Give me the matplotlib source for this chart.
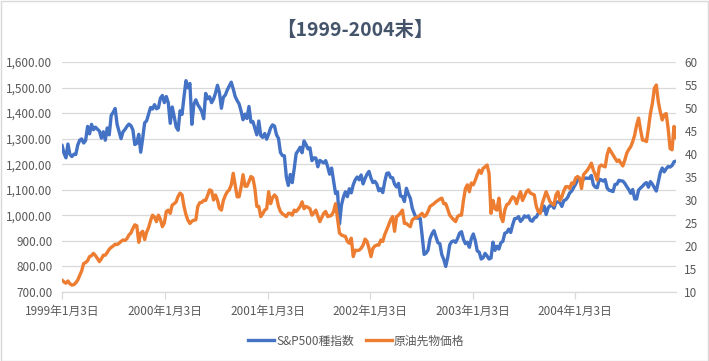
import matplotlib
matplotlib.use('Agg')
import matplotlib.pyplot as plt
import pandas as pd
from matplotlib.ticker import FuncFormatter, FixedLocator
from matplotlib.lines import Line2D
from matplotlib.patches import Rectangle

plt.rcParams['font.family'] = ['Noto Sans CJK JP', 'DejaVu Sans']

title = '【1999-2004末】'
series_names = ['S&P500種指数', '原油先物価格']
start_date = '1999-01-03'
xtick_dates = ['1999-01-03', '2000-01-03', '2001-01-03', '2002-01-03', '2003-01-03', '2004-01-03']
left_ticks = [700, 800, 900, 1000, 1100, 1200, 1300, 1400, 1500, 1600]
right_ticks = [10, 15, 20, 25, 30, 35, 40, 45, 50, 55, 60]

sp500_1999 = [1275, 1243, 1225, 1279, 1239, 1230, 1239, 1238, 1275, 1294, 1299, 1283, 1293, 1348, 1319,
              1356, 1335, 1345, 1337, 1330, 1302, 1327, 1294, 1342, 1315, 1391, 1403, 1418, 1356, 1328,
              1300, 1327, 1336, 1348, 1357, 1351, 1335, 1277, 1282, 1317, 1247, 1301, 1362, 1370, 1396,
              1422, 1416, 1433, 1417, 1421, 1458, 1469]
sp500_2000 = [1441, 1465, 1441, 1360, 1424, 1387, 1346, 1333, 1409, 1395, 1464, 1527, 1499, 1516, 1356,
              1434, 1452, 1433, 1421, 1406, 1378, 1477, 1456, 1464, 1441, 1455, 1478, 1509, 1480, 1419,
              1462, 1471, 1491, 1506, 1521, 1495, 1465, 1449, 1436, 1408, 1374, 1396, 1379, 1426, 1365,
              1367, 1341, 1315, 1369, 1312, 1305, 1320]
sp500_2001 = [1298, 1318, 1342, 1354, 1349, 1315, 1301, 1246, 1234, 1233, 1150, 1117, 1160, 1128, 1183,
              1242, 1253, 1266, 1245, 1291, 1277, 1260, 1264, 1214, 1225, 1224, 1190, 1215, 1210, 1205,
              1214, 1190, 1161, 1185, 1134, 1085, 1092, 966, 1040, 1072, 1092, 1073, 1104, 1088, 1120,
              1139, 1150, 1139, 1158, 1123, 1144, 1161]
sp500_2002 = [1172, 1146, 1128, 1133, 1122, 1096, 1104, 1089, 1132, 1164, 1166, 1148, 1147, 1122, 1111,
              1125, 1076, 1073, 1054, 1106, 1083, 1067, 1027, 1007, 989, 990, 989, 921, 847, 852,
              864, 908, 928, 940, 916, 893, 889, 846, 827, 800, 835, 884, 897, 900, 894,
              909, 930, 936, 906, 889, 895, 875]
sp500_2003 = [909, 927, 901, 861, 856, 829, 834, 851, 841, 829, 833, 895, 863, 879, 868,
              893, 898, 930, 933, 946, 933, 963, 987, 988, 995, 976, 985, 998, 993, 998,
              980, 977, 990, 993, 1008, 1021, 1018, 1036, 1003, 1029, 1038, 1039, 1028, 1050, 1053,
              1050, 1035, 1058, 1061, 1071, 1088, 1095]
sp500_2004 = [1109, 1122, 1139, 1141, 1131, 1142, 1146, 1145, 1145, 1156, 1120, 1110, 1108, 1141, 1139,
              1134, 1140, 1107, 1098, 1096, 1093, 1121, 1122, 1137, 1135, 1134, 1125, 1112, 1101, 1086,
              1101, 1064, 1064, 1099, 1107, 1114, 1123, 1128, 1110, 1132, 1122, 1108, 1095, 1130, 1167,
              1185, 1170, 1182, 1191, 1189, 1195, 1210, 1212]

oil_1999 = [12.6, 12.2, 11.9, 12.4, 11.8, 11.5, 11.6, 12.0, 12.6, 13.6, 14.6, 16.2, 16.4, 16.8, 17.7,
            17.9, 18.4, 17.9, 17.3, 16.6, 17.2, 18.0, 18.0, 18.6, 19.3, 19.7, 20.0, 20.4, 20.3, 20.6,
            21.0, 21.3, 21.2, 21.6, 22.4, 22.8, 23.8, 24.6, 24.4, 20.8, 22.8, 23.2, 21.4, 23.0, 24.0,
            25.5, 26.7, 26.3, 25.3, 26.7, 25.8, 24.2]
oil_2000 = [25.0, 27.5, 27.8, 27.1, 28.9, 29.2, 29.6, 30.8, 31.5, 31.1, 28.6, 26.8, 25.6, 24.9, 25.4,
            25.6, 25.7, 28.6, 29.4, 29.5, 29.9, 29.9, 31.0, 32.2, 32.0, 30.0, 31.1, 30.0, 28.2, 27.8,
            29.9, 31.0, 31.8, 32.2, 33.3, 35.8, 33.3, 30.7, 30.7, 32.8, 35.5, 33.0, 33.0, 34.0, 35.1,
            34.8, 32.5, 28.6, 28.6, 26.4, 27.0, 27.8]
oil_2001 = [28.1, 31.8, 29.2, 30.5, 31.1, 30.6, 28.6, 27.5, 27.0, 26.7, 26.4, 27.1, 27.1, 26.7, 27.8,
            27.5, 28.0, 28.6, 29.6, 28.1, 28.6, 28.4, 28.1, 26.7, 27.2, 27.8, 26.5, 25.3, 26.2, 27.1,
            27.5, 26.4, 26.5, 26.7, 27.5, 29.2, 26.0, 22.8, 22.4, 22.2, 22.1, 21.0, 20.6, 21.7, 17.7,
            19.1, 19.0, 19.1, 19.5, 20.2, 21.5, 21.0]
oil_2002 = [19.5, 17.7, 19.5, 20.0, 20.2, 20.2, 21.3, 21.0, 22.5, 23.5, 24.6, 25.7, 26.4, 23.2, 26.4,
            26.7, 27.2, 27.8, 24.9, 24.9, 24.5, 24.2, 25.7, 26.0, 26.2, 26.4, 26.7, 27.1, 26.4, 26.7,
            27.5, 28.6, 28.9, 29.2, 29.6, 29.9, 30.2, 30.4, 29.2, 29.2, 28.0, 26.7, 26.2, 25.7, 25.3,
            26.4, 26.7, 26.7, 29.9, 32.5, 33.3, 31.8]
oil_2003 = [33.7, 33.3, 34.3, 35.5, 36.5, 35.8, 36.9, 37.2, 37.6, 35.8, 27.1, 29.9, 28.1, 27.8, 30.4,
            26.4, 25.3, 27.8, 29.0, 29.2, 30.0, 30.7, 30.4, 29.2, 30.7, 31.8, 29.9, 30.8, 31.8, 32.2,
            31.5, 31.3, 31.1, 28.6, 27.5, 27.1, 29.2, 30.5, 31.8, 30.7, 29.6, 29.2, 28.9, 31.1, 31.8,
            29.9, 30.7, 32.0, 32.9, 32.9, 32.5, 33.7]
oil_2004 = [33.5, 34.8, 35.1, 34.8, 32.5, 35.5, 36.0, 36.5, 37.2, 38.0, 36.5, 35.5, 34.3, 37.2, 37.6,
            37.4, 37.2, 39.8, 41.2, 40.5, 39.8, 39.1, 38.4, 38.7, 38.0, 37.4, 38.7, 40.2, 41.0, 41.6,
            42.7, 44.1, 46.3, 47.8, 45.2, 43.0, 43.0, 42.7, 45.6, 48.8, 51.0, 54.3, 55.0, 51.4, 49.2,
            47.4, 48.5, 48.8, 45.6, 41.2, 40.9, 46.0, 43.5]

sp500 = sp500_1999 + sp500_2000 + sp500_2001 + sp500_2002 + sp500_2003 + sp500_2004
oil = oil_1999 + oil_2000 + oil_2001 + oil_2002 + oil_2003 + oil_2004
dates = pd.date_range(start_date, periods=len(sp500), freq='7D')

W, H = 709, 361
fig = plt.figure(figsize=(W / 100, H / 100), dpi=100)
fig.patch.set_facecolor('white')
ax = fig.add_axes([62 / W, 1 - 292 / H, 614 / W, 230 / H])
ax2 = ax.twinx()

blue = '#4472C4'
orange = '#ED7D31'
text_col = '#595959'
grid_col = '#D9D9D9'

ax.plot(dates, sp500, color=blue, lw=2.4, solid_joinstyle='round', solid_capstyle='round')
ax2.plot(dates, oil, color=orange, lw=2.4, solid_joinstyle='round', solid_capstyle='round')

ax.set_xlim(dates[0], dates[-1])
ax.set_ylim(left_ticks[0], left_ticks[-1])
ax2.set_ylim(right_ticks[0], right_ticks[-1])

ax.yaxis.set_major_locator(FixedLocator(left_ticks))
ax.yaxis.set_major_formatter(FuncFormatter(lambda v, p: f'{v:,.2f}'))
ax2.yaxis.set_major_locator(FixedLocator(right_ticks))
ax2.yaxis.set_major_formatter(FuncFormatter(lambda v, p: f'{v:.0f}'))

xt = pd.to_datetime(xtick_dates)
ax.set_xticks(xt)
ax.set_xticklabels([f'{d.year}年{d.month}月{d.day}日' for d in xt])

ax.grid(axis='y', color=grid_col, lw=0.9)
ax.set_axisbelow(True)
for a in (ax, ax2):
    for s in ('top', 'left', 'right', 'bottom'):
        a.spines[s].set_visible(False)
ax.spines['bottom'].set_visible(True)
ax.spines['bottom'].set_color(grid_col)
ax.spines['bottom'].set_linewidth(0.9)

ax.tick_params(axis='x', length=5, width=0.9, color=grid_col, labelcolor=text_col, labelsize=8.5, pad=4)
ax.tick_params(axis='y', length=0, labelcolor=text_col, labelsize=8.5, pad=7)
ax2.tick_params(axis='y', length=0, labelcolor=text_col, labelsize=8.5, pad=6)

fig.text(0.5, 1 - 30 / H, title, ha='center', va='center', fontsize=14, fontweight='bold', color='#44546A')

handles = [Line2D([], [], color=blue, lw=2.4), Line2D([], [], color=orange, lw=2.4)]
fig.legend(handles, series_names, loc='center', bbox_to_anchor=(356 / W, 1 - 341 / H), ncol=2,
           frameon=False, fontsize=8.5, labelcolor=text_col, handlelength=2.2, handletextpad=0.2,
           columnspacing=1.0)

fig.patches.append(Rectangle((0.5 / W, 0.5 / H), 1 - 1.5 / W, 1 - 1.5 / H, transform=fig.transFigure,
                             fill=False, edgecolor=grid_col, lw=1))

fig.savefig('out.png', dpi=100, facecolor='white')
